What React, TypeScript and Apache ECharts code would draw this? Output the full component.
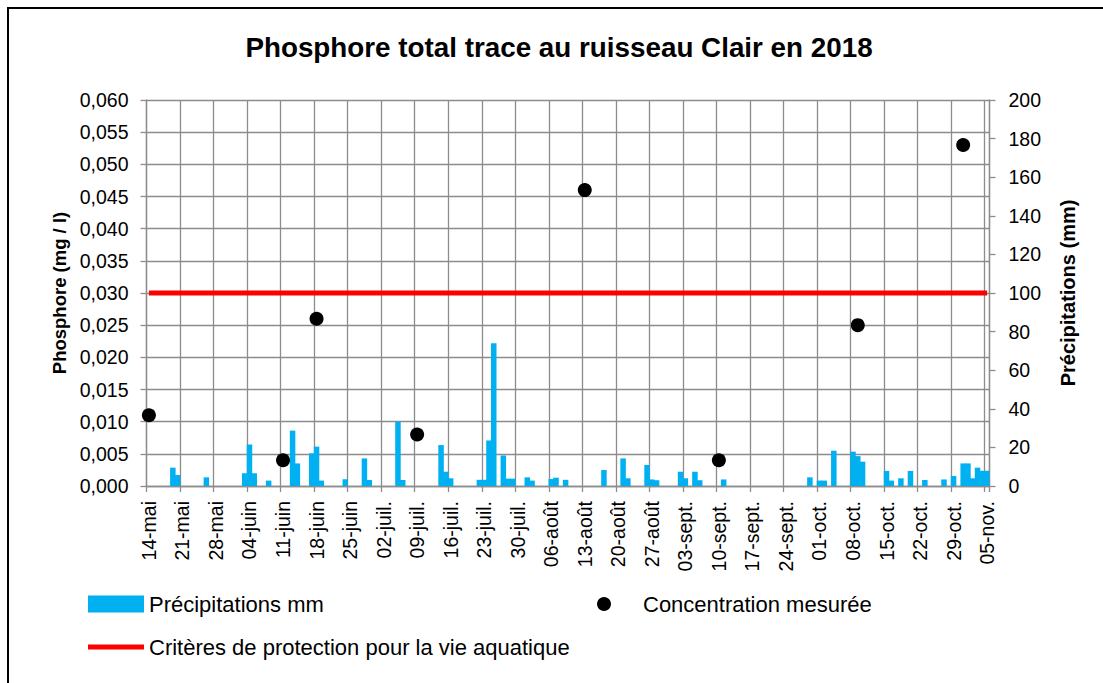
import React, { useEffect, useRef } from "react";
import * as echarts from "echarts";

// Days counted from 14 May 2018 (day 0) to 5 Nov 2018 (day 175)
const dayCount = 176;
const tickLabels = [
  "14-mai", "21-mai", "28-mai", "04-juin", "11-juin", "18-juin", "25-juin",
  "02-juil.", "09-juil.", "16-juil.", "23-juil.", "30-juil.", "06-août",
  "13-août", "20-août", "27-août", "03-sept.", "10-sept.", "17-sept.",
  "24-sept.", "01-oct.", "08-oct.", "15-oct.", "22-oct.", "29-oct.", "05-nov.",
];

// Daily precipitation (mm), sparse: day index -> value
const precipDays = [
  5, 6, 12, 20, 21, 22, 25, 30, 31, 34, 35, 36, 41, 45, 46, 52, 53, 61, 62, 63,
  69, 70, 71, 72, 74, 75, 76, 79, 80, 84, 85, 87, 95, 99, 100, 104, 105, 106,
  111, 112, 114, 115, 120, 138, 140, 141, 143, 147, 148, 149, 154, 155, 157,
  159, 162, 166, 168, 170, 171, 172, 173, 174, 175,
];
const precipMm = [
  9.5, 5.7, 4.5, 6.6, 21.5, 6.6, 2.8, 28.7, 11.7, 16.9, 20.4, 2.8, 3.5, 14.3,
  3.1, 33.3, 3.1, 21.2, 7.4, 4.0, 3.2, 3.2, 23.6, 74, 15.8, 3.8, 3.8, 4.5, 2.8,
  3.6, 4.3, 3.2, 8.3, 14.3, 4.0, 10.9, 3.4, 3.0, 7.4, 4.0, 7.4, 3.0, 3.4, 4.5,
  2.8, 2.8, 18.3, 17.8, 15.5, 12.6, 7.8, 2.8, 4.0, 7.8, 3.1, 3.4, 5.2, 11.7,
  11.7, 4.0, 9.5, 7.9, 7.9,
];

// Measured total phosphorus (mg/l)
const concDays = [0, 28, 35, 56, 91, 119, 148, 170];
const concValues = [0.011, 0.004, 0.026, 0.008, 0.046, 0.004, 0.025, 0.053];

const critere = 0.03;

const seriesNames = {
  precip: "Précipitations mm",
  conc: "Concentration mesurée",
  crit: "Critères de protection pour la vie aquatique",
};

const FONT = "Liberation Sans";
const GRID = "#8c8c8c";

export default function App() {
  const ref = useRef<HTMLDivElement>(null);

  useEffect(() => {
    if (!ref.current) return;
    const chart = echarts.init(ref.current, null, { renderer: "svg" });

    const categories = Array.from({ length: dayCount }, (_, i) => String(i));
    const precipData: (number | null)[] = categories.map(() => null);
    precipDays.forEach((d, i) => {
      precipData[d] = precipMm[i];
    });
    const concData = concDays.map((d, i) => [d, concValues[i]]);
    const critData = categories.map(() => critere);

    chart.setOption({
      animation: false,
      textStyle: { fontFamily: FONT },
      title: {
        text: "Phosphore total trace au ruisseau Clair en 2018",
        left: 559,
        textAlign: "center",
        top: 33,
        padding: 0,
        textStyle: { fontFamily: FONT, fontSize: 27.8, fontWeight: "bold", color: "#000" },
      },
      grid: { left: 146.5, right: 113.5, top: 100, bottom: 197 },
      legend: [
        {
          data: [seriesNames.precip],
          left: 88,
          top: 593,
          padding: 0,
          icon: "rect",
          itemWidth: 56,
          itemHeight: 17,
          textStyle: { fontFamily: FONT, fontSize: 22, color: "#000" },
        },
        {
          data: [seriesNames.conc],
          left: 597,
          top: 593,
          padding: 0,
          icon: "circle",
          itemWidth: 14,
          itemHeight: 14,
          itemStyle: { color: "#000", opacity: 1 },
          textStyle: { fontFamily: FONT, fontSize: 22, color: "#000", padding: [0, 0, 0, 27] },
        },
        {
          data: [seriesNames.crit],
          left: 88,
          top: 636,
          padding: 0,
          icon: "rect",
          itemWidth: 56,
          itemHeight: 5,
          textStyle: { fontFamily: FONT, fontSize: 22, color: "#000" },
        },
      ],
      xAxis: {
        type: "category",
        data: categories,
        boundaryGap: true,
        axisLine: { show: true, lineStyle: { color: GRID, width: 1.3 } },
        axisTick: { show: true, interval: 6, length: 6, lineStyle: { color: GRID, width: 1.3 } },
        axisLabel: {
          interval: 6,
          rotate: 90,
          margin: 15,
          fontSize: 19.5,
          color: "#000",
          fontFamily: FONT,
          formatter: (_v: string, i: number) => (i % 7 === 0 ? tickLabels[i / 7] : ""),
        },
        splitLine: { show: true, interval: 6, lineStyle: { color: GRID, width: 1.3 } },
      },
      yAxis: [
        {
          type: "value",
          min: 0,
          max: 0.06,
          interval: 0.005,
          position: "left",
          axisLine: { show: true, lineStyle: { color: GRID, width: 1.3 } },
          axisTick: { show: true, length: 6, lineStyle: { color: GRID, width: 1.3 } },
          axisLabel: {
            margin: 18,
            fontSize: 19.5,
            color: "#000",
            fontFamily: FONT,
            formatter: (v: number) => v.toFixed(3).replace(".", ","),
          },
          splitLine: { show: true, lineStyle: { color: GRID, width: 1.3 } },
          name: "Phosphore (mg / l)",
          nameLocation: "middle",
          nameRotate: 90,
          nameGap: 76,
          nameTextStyle: { fontFamily: FONT, fontSize: 18.5, fontWeight: "bold", color: "#000" },
        },
        {
          type: "value",
          min: 0,
          max: 200,
          interval: 20,
          position: "right",
          axisLine: { show: true, lineStyle: { color: GRID, width: 1.3 } },
          axisTick: { show: true, length: 6, lineStyle: { color: GRID, width: 1.3 } },
          axisLabel: { margin: 19, fontSize: 19.5, color: "#000", fontFamily: FONT },
          splitLine: { show: false },
          name: "Précipitations (mm)",
          nameLocation: "middle",
          nameRotate: 90,
          nameGap: 68,
          nameTextStyle: { fontFamily: FONT, fontSize: 20, fontWeight: "bold", color: "#000" },
        },
      ],
      series: [
        {
          name: seriesNames.precip,
          type: "bar",
          yAxisIndex: 1,
          data: precipData,
          barWidth: 5.5,
          itemStyle: { color: "#00B0F0" },
          z: 2,
        },
        {
          name: seriesNames.crit,
          type: "line",
          yAxisIndex: 0,
          data: critData,
          showSymbol: false,
          symbol: "none",
          itemStyle: { color: "#FF0000" },
          lineStyle: { color: "#FF0000", width: 5 },
          z: 3,
        },
        {
          name: seriesNames.conc,
          type: "scatter",
          yAxisIndex: 0,
          data: concData,
          symbol: "circle",
          symbolSize: 14,
          itemStyle: { color: "#000", opacity: 1 },
          z: 4,
        },
      ],
      graphic: [
        {
          type: "rect",
          shape: { x: 8, y: 8, width: 1200, height: 700 },
          style: { fill: "none", stroke: "#000", lineWidth: 2 },
          silent: true,
        },
      ],
    });

    return () => chart.dispose();
  }, []);

  return (
    <div
      ref={ref}
      style={{ position: "absolute", left: 0, top: 0, width: 1103, height: 683, background: "#fff" }}
    />
  );
}
